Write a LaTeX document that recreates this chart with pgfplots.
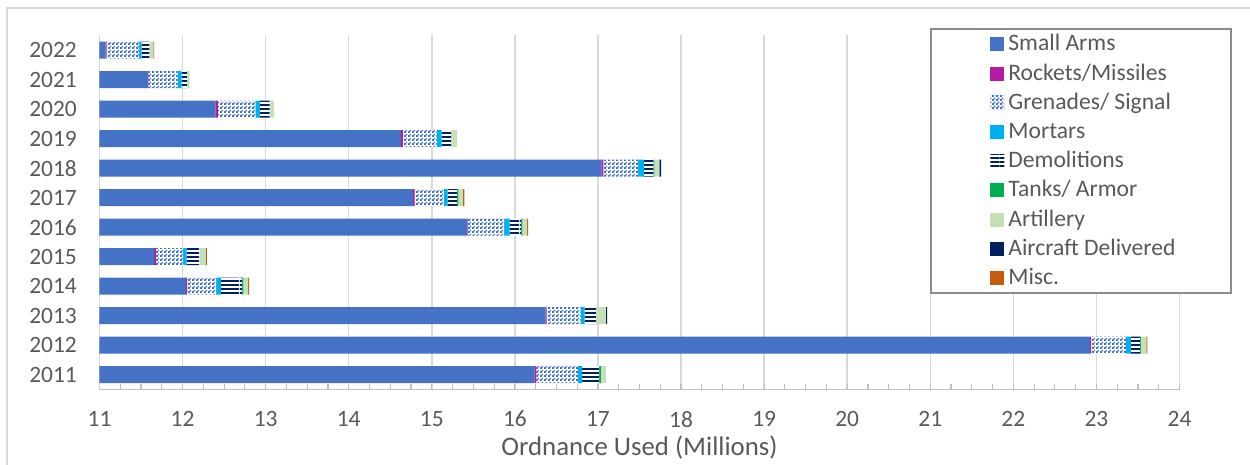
\documentclass[border=0pt]{standalone}
\usepackage{fontspec}
\setmainfont{Carlito}
\usepackage{pgfplots}
\usepackage{pgfplotstable}
\pgfplotsset{compat=1.18}
\usetikzlibrary{patterns.meta}

\definecolor{smallc}{HTML}{4472C4}
\definecolor{rocketc}{HTML}{B51AA3}
\definecolor{grenc}{HTML}{4472C4}
\definecolor{mortc}{HTML}{00B0F0}
\definecolor{demolc}{HTML}{002060}
\definecolor{tankc}{HTML}{00B050}
\definecolor{artc}{HTML}{C5E0B4}
\definecolor{airc}{HTML}{002060}
\definecolor{miscc}{HTML}{C55A11}
\definecolor{textc}{HTML}{595959}
\definecolor{gridc}{HTML}{D9D9D9}
\definecolor{axisc}{HTML}{BFBFBF}
\definecolor{legc}{HTML}{8C8C8C}

% fine checkerboard for grenades / signal
\tikzdeclarepattern{
  name=finechecker,
  type=uncolored,
  bottom left={(0pt,0pt)},
  top right={(2pt,2pt)},
  tile size={(2pt,2pt)},
  code={
    \pgfpathrectangle{\pgfpointorigin}{\pgfpoint{1.1pt}{1.1pt}}
    \pgfpathrectangle{\pgfpoint{0.95pt}{0.95pt}}{\pgfpoint{1.05pt}{1.05pt}}
    \pgfusepath{fill}
  }
}
% horizontal stripes for demolitions
\tikzdeclarepattern{
  name=hstripes,
  type=uncolored,
  bottom left={(0pt,0pt)},
  top right={(20pt,2.1pt)},
  tile size={(20pt,2.1pt)},
  code={
    \pgfpathrectangle{\pgfpointorigin}{\pgfpoint{20pt}{1.05pt}}
    \pgfusepath{fill}
  }
}

% ordnance used, millions of rounds; row 0 = 2011 ... row 11 = 2022
\pgfplotstableread{
idx small  rockets grenades mortars demol tanks artillery aircraft misc
0   16.234 0.024   0.500    0.052   0.204 0.020 0.060     0.000    0.000
1   22.925 0.012   0.417    0.060   0.112 0.008 0.068     0.000    0.010
2   16.370 0.012   0.409    0.048   0.136 0.000 0.120     0.016    0.000
3   12.040 0.016   0.349    0.056   0.256 0.016 0.056     0.000    0.012
4   11.659 0.020   0.329    0.040   0.160 0.000 0.072     0.000    0.012
5   15.425 0.005   0.440    0.068   0.136 0.016 0.056     0.000    0.012
6   14.776 0.016   0.349    0.048   0.116 0.016 0.052     0.000    0.020
7   17.040 0.024   0.420    0.072   0.112 0.012 0.060     0.020    0.000
8   14.632 0.020   0.405    0.060   0.116 0.000 0.072     0.000    0.000
9   12.396 0.028   0.453    0.052   0.120 0.000 0.052     0.000    0.000
10  11.583 0.005   0.352    0.048   0.068 0.000 0.028     0.000    0.000
11  11.074 0.012   0.390    0.032   0.092 0.000 0.048     0.000    0.010
}\ordnance

\pgfplotsset{
  sq/.style={legend image code/.code={%
    \draw[##1,draw=none] (0pt,-3.5pt) rectangle (7pt,3.5pt);}},
}

\begin{document}
\begin{tikzpicture}[x=1pt,y=1pt]
\path[use as bounding box] (0,0) rectangle (625,232.5);
\draw[gridc, line width=0.75pt] (3.5,0) -- (3.5,228.5) -- (625,228.5);
\begin{axis}[
  at={(49.75pt,37.75pt)}, anchor=south west,
  scale only axis, width=540pt, height=177pt,
  xbar stacked, bar width=8.5pt,
  clip mode=individual,
  xmin=11, xmax=24, ymin=-0.5, ymax=11.5,
  enlargelimits=false,
  axis x line*=bottom, axis y line*=left,
  x axis line style={axisc, line width=0.75pt},
  y axis line style={gridc, line width=0.75pt},
  xtick={11,12,...,24}, minor x tick num=3,
  xtick align=inside,
  major tick length=2.5pt, minor tick length=2.5pt,
  tick style={axisc, line width=0.6pt},
  ytick={0,...,11},
  yticklabels={2011,2012,2013,2014,2015,2016,2017,2018,2019,2020,2021,2022},
  ytick style={draw=none},
  xmajorgrids, major grid style={gridc, line width=0.75pt},
  /pgf/number format/assume math mode=true,
  tick label style={font=\fontsize{11.7}{14}\selectfont, text=textc},
  xticklabel style={yshift=-7.3pt},
  yticklabel style={xshift=-7.85pt},
  xlabel={Ordnance Used (Millions)},
  xlabel style={at={(axis description cs:0.5,0)}, anchor=base, yshift=-33pt,
    font=\fontsize{13.4}{16}\selectfont, text=textc},
  legend cell align=left,
  legend style={at={(0.82454,1.0141)}, anchor=north west,
    draw=none, fill=none, inner sep=0pt, row sep=1.1pt,
    font=\fontsize{11.8}{14}\selectfont, text=textc,
    /tikz/every odd column/.append style={inner sep=0pt},
    /tikz/every even column/.append style={inner ysep=0pt, inner xsep=2.5pt,
      text height=8pt, text depth=2.5pt}},
]
\addplot[sq, fill=smallc, draw=none] table[x=small, y=idx] {\ordnance};
\addplot[sq, fill=rocketc, draw=none] table[x=rockets, y=idx] {\ordnance};
\addplot[sq, draw=none, preaction={fill=white},
  pattern=finechecker, pattern color=grenc] table[x=grenades, y=idx] {\ordnance};
\addplot[sq, fill=mortc, draw=none] table[x=mortars, y=idx] {\ordnance};
\addplot[sq, draw=none, preaction={fill=white},
  pattern=hstripes, pattern color=demolc] table[x=demol, y=idx] {\ordnance};
\addplot[sq, fill=tankc, draw=none] table[x=tanks, y=idx] {\ordnance};
\addplot[sq, fill=artc, draw=none] table[x=artillery, y=idx] {\ordnance};
\addplot[sq, fill=airc, draw=none] table[x=aircraft, y=idx] {\ordnance};
\addplot[sq, fill=miscc, draw=none] table[x=misc, y=idx] {\ordnance};
\legend{Small Arms, Rockets/Missiles, Grenades/ Signal, Mortars, Demolitions,
  Tanks/ Armor, Artillery, Aircraft Delivered, Misc.}
% legend frame
\draw[legc, line width=1pt, fill=white]
  (rel axis cs:0.7699,0.2737) rectangle (rel axis cs:1.0481,1.0184);
\end{axis}
\end{tikzpicture}
\end{document}
